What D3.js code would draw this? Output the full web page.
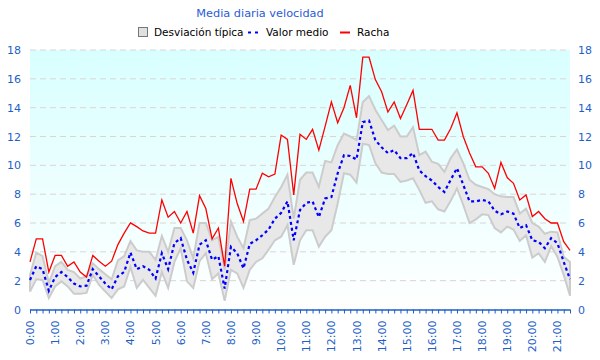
<!DOCTYPE html>
<html>
<head>
<meta charset="utf-8">
<script src="https://cdn.jsdelivr.net/npm/d3@7/dist/d3.min.js"></script>
<style>
  html, body { margin: 0; padding: 0; background: #ffffff; }
  svg { display: block; font-family: "DejaVu Sans", Verdana, sans-serif; }
</style>
</head>
<body>
<svg id="chart" width="600" height="360"></svg>
<script>
const title = "Media diaria velocidad";
const legendLabels = ["Desviación típica", "Valor medio", "Racha"];
const hourLabels = ["0:00","1:00","2:00","3:00","4:00","5:00","6:00","7:00","8:00","9:00","10:00",
  "11:00","12:00","13:00","14:00","15:00","16:00","17:00","18:00","19:00","20:00","21:00"];
const yTicks = [0,2,4,6,8,10,12,14,16,18];

// one value every 15 minutes, from 0:00 to 21:30
const racha = [3.3,4.9,4.9,2.6,3.75,3.75,3.0,3.3,2.6,2.25,
  3.75,3.35,3.0,3.35,4.5,5.3,6.0,5.75,5.45,5.3,
  5.3,7.6,6.4,6.8,6.0,6.8,5.3,7.9,7.0,4.9,
  5.65,3.0,9.1,7.35,6.1,8.35,8.35,9.45,9.2,9.4,
  12.1,11.8,7.95,12.15,11.8,12.5,11.05,12.7,14.4,12.95,
  14.0,15.55,13.3,17.5,17.5,15.95,15.1,13.7,14.4,13.25,
  14.2,15.2,12.5,12.5,12.5,11.75,11.75,12.55,13.65,12.0,
  10.85,9.9,9.9,9.45,8.4,10.2,9.15,8.75,7.6,7.95,
  6.45,6.8,6.3,6.0,6.0,4.7,4.1];

const media = [2.05,3.0,2.8,1.3,2.25,2.6,2.25,1.8,1.6,1.65,
  2.8,2.3,1.8,1.4,2.3,2.6,3.95,2.8,3.0,2.75,
  2.15,3.9,2.8,4.6,4.95,3.45,2.55,4.5,4.8,3.45,
  3.7,1.45,4.35,3.9,2.85,4.55,4.8,5.15,5.55,6.3,
  6.7,7.5,4.8,6.9,7.4,7.5,6.4,7.7,7.8,9.45,
  10.7,10.65,10.4,13.0,13.1,11.75,11.25,10.85,11.05,10.5,
  10.5,10.85,9.65,9.25,8.95,8.5,8.15,9.0,9.8,8.65,
  7.5,7.5,7.6,7.5,6.85,6.6,6.8,6.65,5.65,5.85,
  4.8,4.7,4.25,4.95,4.6,3.3,2.1];

const desvSup = [2.4,3.95,3.7,1.85,3.0,3.3,2.75,2.6,2.15,2.3,
  3.2,2.8,2.45,2.1,3.4,3.7,4.75,4.1,4.0,4.0,
  3.45,5.1,4.0,5.65,5.65,4.8,3.55,6.0,6.0,4.8,
  5.05,2.75,6.1,5.05,4.25,6.2,6.3,6.65,7.0,7.8,
  8.5,9.35,6.3,9.0,9.5,9.5,8.5,10.3,10.2,11.4,
  12.2,12.0,11.75,14.4,14.8,13.85,13.15,12.45,12.75,12.0,
  12.0,12.65,10.7,10.95,10.25,10.1,9.55,10.5,11.1,10.15,
  9.0,8.65,8.5,8.35,8.0,7.85,7.8,7.8,6.65,7.0,
  6.0,5.75,5.25,5.4,5.35,3.65,3.3];

const desvInf = [1.25,2.1,2.05,0.8,1.6,1.95,1.6,1.1,1.1,1.15,
  2.4,1.7,1.25,0.8,1.4,1.6,2.95,1.5,2.05,1.5,
  0.95,2.6,1.5,3.3,4.25,1.95,1.5,3.35,3.9,2.1,
  2.5,0.6,2.75,2.5,1.5,2.75,3.3,3.55,4.15,4.8,
  5.05,5.85,3.1,4.8,5.5,5.5,4.35,5.05,5.5,7.35,
  9.45,9.35,8.8,11.5,11.4,10.15,9.5,9.4,9.4,8.85,
  8.95,9.1,8.3,7.4,7.5,6.95,6.8,7.55,8.4,7.25,
  6.0,6.25,6.6,6.55,5.65,5.35,5.75,5.55,4.75,5.15,
  3.6,3.9,3.3,4.4,3.65,2.4,0.95];

const hours = racha.map((d, i) => i * 0.25);

const svg = d3.select("#chart");
const L = 30, R = 570, T = 50, B = 309.5;
const x = d3.scaleLinear().domain([0, 21.5]).range([L, R]);
const y = d3.scaleLinear().domain([0, 18]).range([B, T]);
const axisColor = "#1f5fc8";

// background gradient
const defs = svg.append("defs");
const grad = defs.append("linearGradient").attr("id", "bg").attr("x1", 0).attr("y1", 0).attr("x2", 0).attr("y2", 1);
grad.append("stop").attr("offset", "0%").attr("stop-color", "#d8ffff");
grad.append("stop").attr("offset", "100%").attr("stop-color", "#ffffff");
svg.append("rect").attr("x", L).attr("y", T).attr("width", R - L).attr("height", B - T).attr("fill", "url(#bg)");

// grid
svg.append("g").selectAll("line").data(yTicks.filter(v => v > 0)).join("line")
  .attr("x1", L).attr("x2", R).attr("y1", d => y(d)).attr("y2", d => y(d))
  .attr("stroke", "#dcd4d4").attr("stroke-width", 1).attr("stroke-dasharray", "6,4");

// band
const area = d3.area().x((d, i) => x(hours[i])).y0((d, i) => y(desvInf[i])).y1((d, i) => y(desvSup[i]));
svg.append("path").datum(racha).attr("d", area).attr("fill", "#e8e8e8").attr("stroke", "#cccccc").attr("stroke-width", 2);

// racha
const lineR = d3.line().x((d, i) => x(hours[i])).y(d => y(d));
svg.append("path").datum(racha).attr("d", lineR).attr("fill", "none").attr("stroke", "#ff0000").attr("stroke-width", 1.3);

// media
svg.append("path").datum(media).attr("d", lineR).attr("fill", "none").attr("stroke", "#0000ff")
  .attr("stroke-width", 2.2).attr("stroke-dasharray", "3,3");

// x axis
const xAxis = d3.axisBottom(x).tickValues(hours).tickSize(4).tickFormat("");
const gx = svg.append("g").attr("transform", `translate(0,${B})`).call(xAxis);
gx.select(".domain").attr("stroke", axisColor).attr("stroke-width", 1.5).attr("d", `M${L},0.5H${R}`);
gx.selectAll(".tick line").attr("stroke", axisColor);
svg.append("g").selectAll("text").data(hourLabels).join("text")
  .attr("transform", (d, i) => `translate(${x(i) + 4},${B + 11}) rotate(-90)`)
  .attr("text-anchor", "end").attr("fill", axisColor).attr("font-size", 11).text(d => d);

// y labels left and right
svg.append("g").selectAll("text").data(yTicks).join("text")
  .attr("x", 21).attr("y", d => y(d) + 4).attr("text-anchor", "end")
  .attr("fill", axisColor).attr("font-size", 11).text(d => d);
svg.append("g").selectAll("text").data(yTicks).join("text")
  .attr("x", 578).attr("y", d => y(d) + 4).attr("text-anchor", "start")
  .attr("fill", axisColor).attr("font-size", 11).text(d => d);

// title
svg.append("text").attr("x", 260).attr("y", 17).attr("text-anchor", "middle")
  .attr("x", 260).attr("fill", "#2a5bd7").attr("font-size", 11.3).text(title);

// legend
const lg = svg.append("g").attr("font-size", 10.5).attr("fill", "#000");
lg.append("rect").attr("x", 138.5).attr("y", 27.5).attr("width", 9).attr("height", 9)
  .attr("fill", "#e0e0e0").attr("stroke", "#777").attr("stroke-width", 1);
lg.append("text").attr("x", 154).attr("y", 36).text(legendLabels[0]);
lg.append("line").attr("x1", 248).attr("x2", 259).attr("y1", 32.5).attr("y2", 32.5)
  .attr("stroke", "#0000ff").attr("stroke-width", 2).attr("stroke-dasharray", "3,4");
lg.append("text").attr("x", 266).attr("y", 36).text(legendLabels[1]);
lg.append("line").attr("x1", 340).attr("x2", 350).attr("y1", 32.5).attr("y2", 32.5)
  .attr("stroke", "#ff0000").attr("stroke-width", 2);
lg.append("text").attr("x", 357).attr("y", 36).text(legendLabels[2]);
</script>
</body>
</html>
